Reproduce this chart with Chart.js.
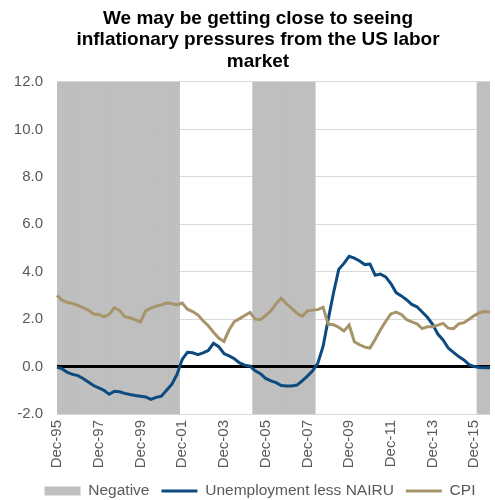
<!DOCTYPE html>
<html>
<head>
<meta charset="utf-8">
<script src="https://cdn.jsdelivr.net/npm/chart.js@4/dist/chart.umd.min.js"></script>
<style>
  html, body { margin: 0; padding: 0; background: #fff; }
  #wrap { width: 495px; height: 500px; }
</style>
</head>
<body>
<div id="wrap"><canvas id="chart" width="495" height="500"></canvas></div>
<script>
// Quarterly observations, Dec-95 through Sep-16
const startYear = 1995;
const startMonth = 11; // December (0-based)
const monthNames = ['Jan', 'Feb', 'Mar', 'Apr', 'May', 'Jun', 'Jul', 'Aug', 'Sep', 'Oct', 'Nov', 'Dec'];

// Unemployment rate less NAIRU (pct pts)
const unemploymentGap = [
    -0.02, -0.10, -0.25, -0.33, -0.38, -0.50, -0.65, -0.80, -0.90, -1.00,
    -1.17, -1.04, -1.06, -1.13, -1.18, -1.22, -1.25, -1.28, -1.38, -1.30,
    -1.25, -1.00, -0.75, -0.33, 0.30, 0.60, 0.58, 0.50, 0.58, 0.68,
    0.98, 0.84, 0.55, 0.45, 0.33, 0.15, 0.06, 0.02, -0.18, -0.30,
    -0.50, -0.60, -0.68, -0.80, -0.82, -0.82, -0.78, -0.60, -0.40, -0.18,
    0.15, 0.85, 2.00, 3.10, 4.10, 4.35, 4.65, 4.57, 4.45, 4.30,
    4.32, 3.85, 3.90, 3.78, 3.50, 3.12, 2.98, 2.82, 2.62, 2.52,
    2.30, 2.08, 1.78, 1.37, 1.12, 0.78, 0.60, 0.42, 0.28, 0.08,
    0.00, -0.04, -0.05, -0.05
];

// CPI, y/y %
const cpi = [
    3.00, 2.80, 2.70, 2.66, 2.58, 2.48, 2.38, 2.22, 2.20, 2.10,
    2.20, 2.48, 2.36, 2.10, 2.05, 1.98, 1.88, 2.35, 2.46, 2.55,
    2.60, 2.68, 2.66, 2.60, 2.68, 2.42, 2.32, 2.18, 1.93, 1.72,
    1.45, 1.20, 1.06, 1.55, 1.90, 2.02, 2.15, 2.28, 2.00, 1.98,
    2.15, 2.35, 2.65, 2.88, 2.64, 2.45, 2.25, 2.12, 2.35, 2.38,
    2.40, 2.50, 1.78, 1.76, 1.66, 1.50, 1.75, 1.05, 0.92, 0.82,
    0.78, 1.15, 1.55, 1.90, 2.22, 2.30, 2.20, 1.98, 1.88, 1.80,
    1.60, 1.68, 1.68, 1.75, 1.82, 1.62, 1.60, 1.80, 1.85, 2.00,
    2.15, 2.27, 2.32, 2.30
];

const yTicks = [-2, 0, 2, 4, 6, 8, 10, 12];

const labels = unemploymentGap.map((v, i) => {
    const m = startMonth + i * 3;
    const yr = (startYear + Math.floor(m / 12)) % 100;
    return monthNames[m % 12] + '-' + String(yr).padStart(2, '0');
});

// Shaded band wherever the gap is below zero
const negative = unemploymentGap.map(v => v < 0 ? [yTicks[0], yTicks[yTicks.length - 1]] : null);

const FONT = '"Liberation Sans", Arial, sans-serif';
const BLUE = '#0d4a80';
const GOLD = '#a8946a';
const GREY = '#bfbfbf';

// Thick black zero line drawn right after the shaded bars
const zeroLine = {
    id: 'zeroLine',
    afterDatasetDraw(chart, args) {
        if (args.index !== 0) return;
        const { ctx, chartArea } = chart;
        const y = chart.scales.y.getPixelForValue(0);
        ctx.save();
        ctx.strokeStyle = '#000';
        ctx.lineWidth = 3;
        ctx.beginPath();
        ctx.moveTo(chartArea.left, y);
        ctx.lineTo(chartArea.right, y);
        ctx.stroke();
        ctx.restore();
    }
};

// Excel centres the title and legend a little right of the canvas middle
const shiftBlocks = {
    id: 'shiftBlocks',
    afterLayout(chart) {
        chart.titleBlock.left += 26;
        chart.legend.left += 30;
    }
};

new Chart(document.getElementById('chart'), {
    data: {
        labels: labels,
        datasets: [
            {
                type: 'bar',
                label: 'Negative',
                data: negative,
                backgroundColor: GREY,
                borderWidth: 0,
                barPercentage: 1,
                categoryPercentage: 1,
                order: 2
            },
            {
                type: 'line',
                label: 'Unemployment less NAIRU',
                data: unemploymentGap,
                borderColor: BLUE,
                borderWidth: 3,
                pointRadius: 0,
                tension: 0,
                order: 1
            },
            {
                type: 'line',
                label: 'CPI',
                data: cpi,
                borderColor: GOLD,
                borderWidth: 3,
                pointRadius: 0,
                tension: 0,
                order: 0
            }
        ]
    },
    options: {
        responsive: false,
        animation: false,
        layout: { padding: { left: 0, right: 5, top: 0, bottom: -8.75 } },
        plugins: {
            title: {
                display: true,
                text: ['We may be getting close to seeing', 'inflationary pressures from the US labor', 'market'],
                color: '#000',
                font: { family: FONT, size: 19, weight: 'bold', lineHeight: 1.14 },
                padding: { top: 7.5, bottom: 9.5 }
            },
            legend: {
                position: 'bottom',
                labels: {
                    usePointStyle: true,
                    pointStyleWidth: 36,
                    boxHeight: 9,
                    padding: 12,
                    color: '#595959',
                    font: { family: FONT, size: 15.5 },
                    generateLabels: chart => chart.data.datasets.map((ds, i) => ({
                        text: ds.label,
                        datasetIndex: i,
                        fillStyle: ds.type === 'bar' ? ds.backgroundColor : ds.borderColor,
                        strokeStyle: ds.type === 'bar' ? ds.backgroundColor : ds.borderColor,
                        lineWidth: ds.type === 'bar' ? 0 : 3,
                        pointStyle: ds.type === 'bar' ? 'rect' : 'line',
                        fontColor: '#595959',
                        hidden: false
                    }))
                }
            },
            tooltip: { enabled: false }
        },
        scales: {
            x: {
                type: 'category',
                offset: false,
                grid: { display: false, drawTicks: false },
                border: { display: false },
                ticks: {
                    autoSkip: false,
                    minRotation: 90,
                    maxRotation: 90,
                    padding: 6,
                    color: '#595959',
                    font: { family: FONT, size: 15 },
                    callback: function (val, idx) {
                        return idx % 8 === 0 ? this.getLabelForValue(val) : '';
                    }
                },
                afterFit: s => {
                    s.height = 57.25;
                    s.paddingLeft = 0;
                    s.paddingRight = 0;
                }
            },
            y: {
                min: yTicks[0],
                max: yTicks[yTicks.length - 1],
                afterBuildTicks: s => { s.ticks = yTicks.map(v => ({ value: v })); },
                grid: {
                    drawTicks: false,
                    color: c => c.tick && c.tick.value === 0 ? 'rgba(0,0,0,0)' : '#d9d9d9'
                },
                border: { display: false },
                ticks: {
                    padding: 14,
                    color: '#595959',
                    font: { family: FONT, size: 15 },
                    callback: v => v.toFixed(1)
                },
                afterFit: s => {
                    s.width = 57;
                    s.paddingTop = 0;
                    s.paddingBottom = 0;
                }
            }
        }
    },
    plugins: [zeroLine, shiftBlocks]
});
</script>
</body>
</html>
